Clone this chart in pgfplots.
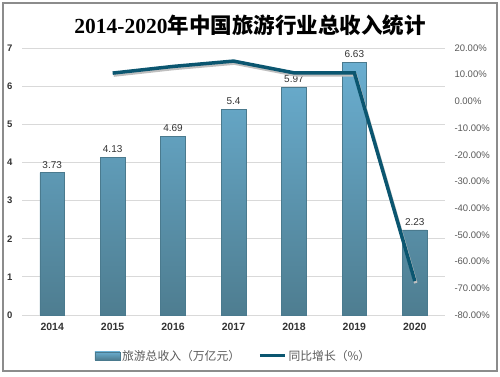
\documentclass[border=0pt]{standalone}
\usepackage{pgfplots}
\pgfplotsset{compat=1.18}
\usepackage{fontspec}
\setmainfont{Liberation Sans}
\newfontfamily\cjk{Noto Sans CJK SC}
\newfontfamily\serifb{Liberation Serif}
\definecolor{linec}{HTML}{0B5670}
\definecolor{bartop}{HTML}{6AAED0}
\definecolor{barbot}{HTML}{4E7D90}
\definecolor{bardraw}{HTML}{4A7A8E}
\definecolor{gridc}{HTML}{D9D9D9}
\definecolor{tickc}{HTML}{595959}
\begin{document}
\begin{tikzpicture}[x=1pt,y=1pt]
\path (0,0) rectangle (500,376);
\draw[color=gray!90, line width=1.2pt] (3,5) rectangle (497,373);
\node[font=\bfseries\fontsize{21.5}{24}\selectfont] at (250,351) {{\serifb\bfseries 2014-2020}{\cjk\bfseries 年中国旅游行业总收入统计}};
\begin{axis}[
  at={(22pt,61pt)}, anchor=south west,
  scale only axis, width=423pt, height=267pt,
  xmin=-0.5, xmax=6.5, ymin=0, ymax=7,
  xtick={0,1,2,3,4,5,6},
  xticklabels={2014,2015,2016,2017,2018,2019,2020},
  xticklabel style={font=\bfseries\fontsize{10.5}{12}\selectfont, text=black!80, yshift=-5pt},
  ytick={0,1,2,3,4,5,6,7},
  yticklabel style={font=\bfseries\fontsize{9.5}{11}\selectfont, text=black!80, xshift=-6pt},
  /pgf/number format/assume math mode=true,
  axis line style={draw=none},
  major tick length=0pt,
  ymajorgrids, grid style={gridc, line width=0.8pt},
  axis x line*=bottom,
  axis y line*=left,
  x axis line style={draw=gridc, line width=0.8pt},
  clip=false,
]
\addplot[ybar, bar width=24.7pt, top color=bartop, bottom color=barbot, draw=bardraw, line width=0.6pt,
  nodes near coords, nodes near coords style={font=\fontsize{10}{11}\selectfont, text=black!80, yshift=1pt},
  point meta=explicit symbolic]
  coordinates {(0,3.73)[3.73] (1,4.13)[4.13] (2,4.69)[4.69] (3,5.4)[5.4] (4,5.97)[5.97] (5,6.63)[6.63] (6,2.23)[2.23]};
\end{axis}
\begin{axis}[
  at={(22pt,61pt)}, anchor=south west,
  scale only axis, width=423pt, height=267pt,
  xmin=-0.5, xmax=6.5, ymin=-80, ymax=20,
  axis x line=none,
  axis y line*=right,
  axis line style={draw=none},
  major tick length=0pt,
  ytick={-80,-70,-60,-50,-40,-30,-20,-10,0,10,20},
  yticklabel={\pgfmathprintnumber[fixed,fixed zerofill,precision=2]{\tick}\%},
  /pgf/number format/assume math mode=true,
  yticklabel style={font=\fontsize{9.5}{11}\selectfont, text=tickc, anchor=west, xshift=6pt},
  legend style={at={(0.5,-0.115)}, anchor=north, draw=none, fill=none, legend columns=2,
    font=\cjk\fontsize{11.8}{13}\selectfont, text=tickc, /tikz/every even column/.append style={column sep=16pt},
    /tikz/every odd column/.append style={column sep=0pt}},
]
\addlegendimage{legend image code/.code={\path[top color=bartop, bottom color=barbot, draw=bardraw] (0pt,-4pt) rectangle (25pt,4pt);}}
\addlegendentry{旅游总收入（万亿元）}
\addplot[black!25, line width=3.5pt, shift={(1pt,-2pt)}, forget plot] coordinates {(1,10.6) (2,13.1) (3,15.1) (4,10.7) (5,10.7) (6,-67.3)};
\addplot[linec, line width=3.5pt, mark=none, legend image code/.code={\draw[linec, line width=3.5pt] (0pt,0pt) -- (25pt,0pt);}] coordinates {(1,10.6) (2,13.1) (3,15.1) (4,10.7) (5,10.7) (6,-67.3)};
\addlegendentry{同比增长（\%）}
\end{axis}
\end{tikzpicture}
\end{document}
